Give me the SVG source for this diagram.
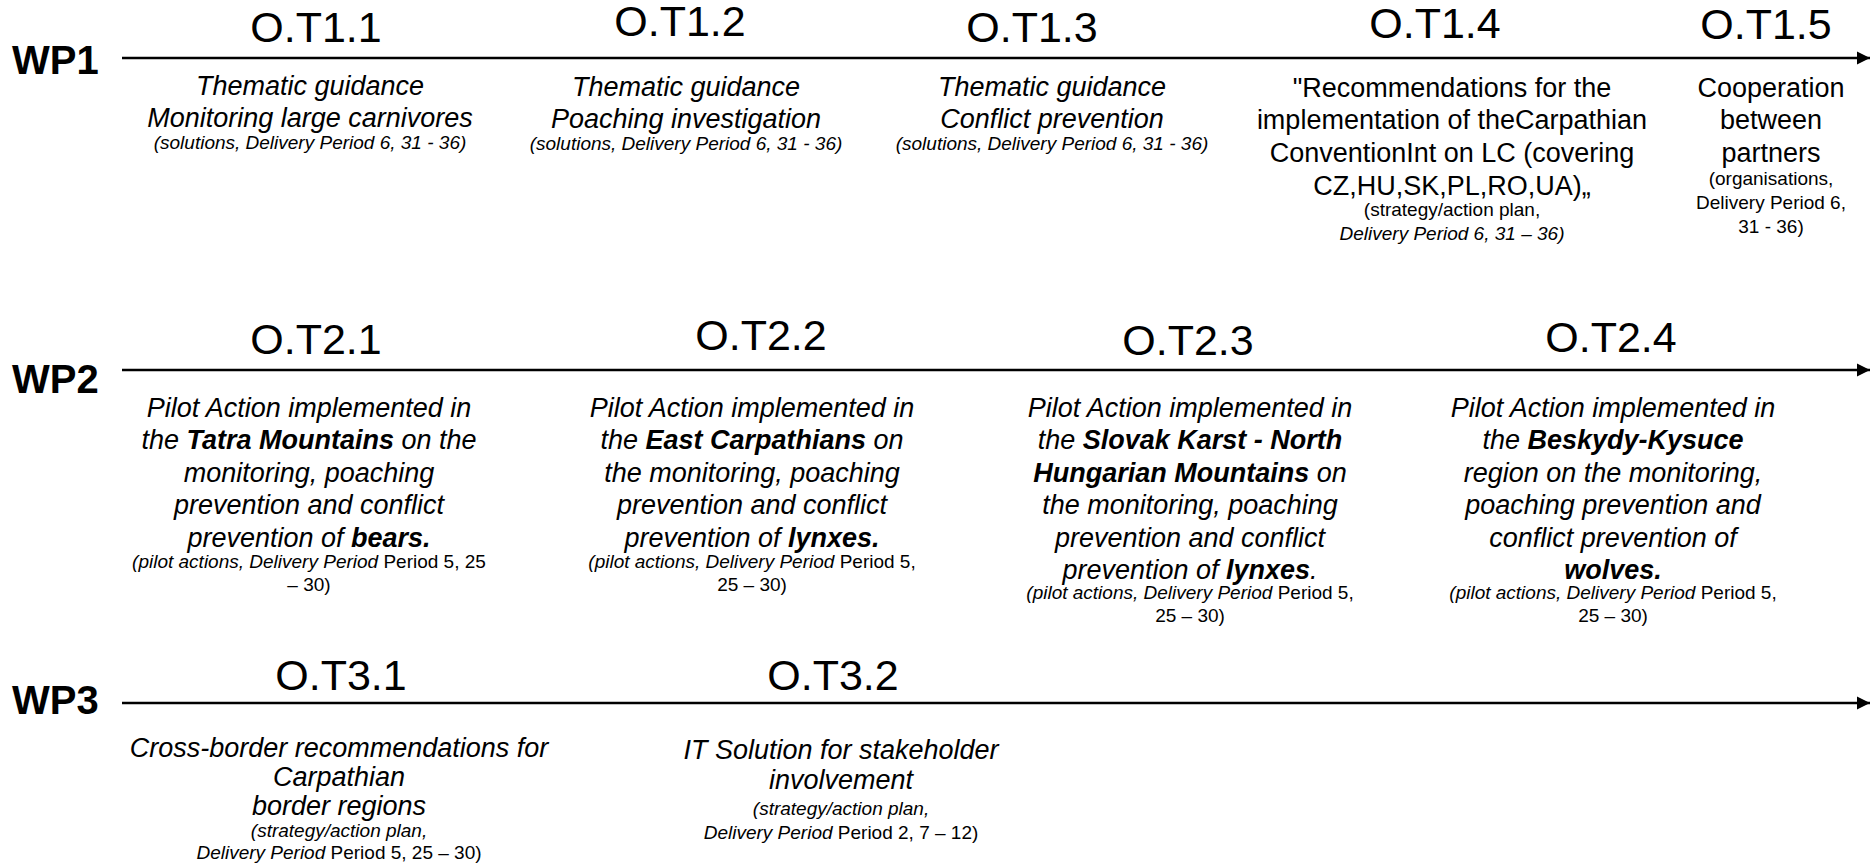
<svg xmlns="http://www.w3.org/2000/svg" width="1871" height="867" viewBox="0 0 1871 867">
<defs>
<style>
text{font-family:"Liberation Sans",Arial,sans-serif;fill:#000;text-anchor:middle}
.wp{font-size:40px;font-weight:bold;text-anchor:start}
.ot{font-size:43px}
.b{font-size:27px}
.i{font-style:italic}
.s{font-size:19px}
.bb{font-weight:bold}
.ax{stroke:#000;stroke-width:2.4;fill:none}
</style>
<marker id="ah" viewBox="0 0 10 10" refX="10" refY="5" markerWidth="5.5" markerHeight="6" markerUnits="strokeWidth" orient="auto"><path d="M0,0L10,5L0,10Z" fill="#000"/></marker>
</defs>
<rect width="1871" height="867" fill="#fff"/>
<g id="connectors">
<line class="ax" x1="122" y1="58" x2="1870" y2="58" marker-end="url(#ah)"/>
<line class="ax" x1="122" y1="370" x2="1870" y2="370" marker-end="url(#ah)"/>
<line class="ax" x1="122" y1="703" x2="1870" y2="703" marker-end="url(#ah)"/>
</g>
<g id="wp-labels">
<text class="wp" x="12" y="74">WP1</text>
<text class="wp" x="12" y="393">WP2</text>
<text class="wp" x="12" y="714">WP3</text>
</g>
<g id="OT1-1">
<text class="ot" x="316" y="42">O.T1.1</text>
<text class="b i" x="310" y="95">Thematic guidance</text>
<text class="b i" x="310" y="127">Monitoring large carnivores</text>
<text class="s i" x="310" y="149">(solutions, Delivery Period 6, 31 - 36)</text>
</g>
<g id="OT1-2">
<text class="ot" x="680" y="36">O.T1.2</text>
<text class="b i" x="686" y="96">Thematic guidance</text>
<text class="b i" x="686" y="128">Poaching investigation</text>
<text class="s i" x="686" y="150">(solutions, Delivery Period 6, 31 - 36)</text>
</g>
<g id="OT1-3">
<text class="ot" x="1032" y="42">O.T1.3</text>
<text class="b i" x="1052" y="96">Thematic guidance</text>
<text class="b i" x="1052" y="128">Conflict prevention</text>
<text class="s i" x="1052" y="150">(solutions, Delivery Period 6, 31 - 36)</text>
</g>
<g id="OT1-4">
<text class="ot" x="1435" y="38">O.T1.4</text>
<text class="b" x="1452" y="97">"Recommendations for the</text>
<text class="b" x="1452" y="129">implementation of theCarpathian</text>
<text class="b" x="1452" y="162">ConventionInt on LC (covering</text>
<text class="b" x="1452" y="195">CZ,HU,SK,PL,RO,UA)„</text>
<text class="s" x="1452" y="216">(strategy/action plan,</text>
<text class="s i" x="1452" y="240">Delivery Period 6, 31 – 36)</text>
</g>
<g id="OT1-5">
<text class="ot" x="1766" y="39">O.T1.5</text>
<text class="b" x="1771" y="97">Cooperation</text>
<text class="b" x="1771" y="129">between</text>
<text class="b" x="1771" y="162">partners</text>
<text class="s" x="1771" y="185">(organisations,</text>
<text class="s" x="1771" y="209">Delivery Period 6,</text>
<text class="s" x="1771" y="233">31 - 36)</text>
</g>
<g id="OT2-1">
<text class="ot" x="316" y="354">O.T2.1</text>
<text class="b i" x="309" y="417">Pilot Action implemented in</text>
<text class="b i" x="309" y="449">the <tspan class="bb">Tatra Mountains</tspan> on the</text>
<text class="b i" x="309" y="482">monitoring, poaching</text>
<text class="b i" x="309" y="514">prevention and conflict</text>
<text class="b i" x="309" y="547">prevention of <tspan class="bb">bears.</tspan></text>
<text class="s" x="309" y="568"><tspan class="i">(pilot actions, Delivery Period</tspan> Period 5, 25</text>
<text class="s" x="309" y="591">– 30)</text>
</g>
<g id="OT2-2">
<text class="ot" x="761" y="350">O.T2.2</text>
<text class="b i" x="752" y="417">Pilot Action implemented in</text>
<text class="b i" x="752" y="449">the <tspan class="bb">East Carpathians</tspan> on</text>
<text class="b i" x="752" y="482">the monitoring, poaching</text>
<text class="b i" x="752" y="514">prevention and conflict</text>
<text class="b i" x="752" y="547">prevention of <tspan class="bb">lynxes.</tspan></text>
<text class="s" x="752" y="568"><tspan class="i">(pilot actions, Delivery Period</tspan> Period 5,</text>
<text class="s" x="752" y="591">25 – 30)</text>
</g>
<g id="OT2-3">
<text class="ot" x="1188" y="355">O.T2.3</text>
<text class="b i" x="1190" y="417">Pilot Action implemented in</text>
<text class="b i" x="1190" y="449">the <tspan class="bb">Slovak Karst - North</tspan></text>
<text class="b i" x="1190" y="482"><tspan class="bb">Hungarian Mountains</tspan> on</text>
<text class="b i" x="1190" y="514">the monitoring, poaching</text>
<text class="b i" x="1190" y="547">prevention and conflict</text>
<text class="b i" x="1190" y="579">prevention of <tspan class="bb">lynxes</tspan>.</text>
<text class="s" x="1190" y="599"><tspan class="i">(pilot actions, Delivery Period</tspan> Period 5,</text>
<text class="s" x="1190" y="622">25 – 30)</text>
</g>
<g id="OT2-4">
<text class="ot" x="1611" y="352">O.T2.4</text>
<text class="b i" x="1613" y="417">Pilot Action implemented in</text>
<text class="b i" x="1613" y="449">the <tspan class="bb">Beskydy-Kysuce</tspan></text>
<text class="b i" x="1613" y="482">region on the monitoring,</text>
<text class="b i" x="1613" y="514">poaching prevention and</text>
<text class="b i" x="1613" y="547">conflict prevention of</text>
<text class="b i bb" x="1613" y="579">wolves.</text>
<text class="s" x="1613" y="599"><tspan class="i">(pilot actions, Delivery Period</tspan> Period 5,</text>
<text class="s" x="1613" y="622">25 – 30)</text>
</g>
<g id="OT3-1">
<text class="ot" x="341" y="690">O.T3.1</text>
<text class="b i" x="339" y="757">Cross-border recommendations for</text>
<text class="b i" x="339" y="786">Carpathian</text>
<text class="b i" x="339" y="815">border regions</text>
<text class="s i" x="339" y="837">(strategy/action plan,</text>
<text class="s" x="339" y="859"><tspan class="i">Delivery Period</tspan> Period 5, 25 – 30)</text>
</g>
<g id="OT3-2">
<text class="ot" x="833" y="690">O.T3.2</text>
<text class="b i" x="841" y="759">IT Solution for stakeholder</text>
<text class="b i" x="841" y="789">involvement</text>
<text class="s i" x="841" y="815">(strategy/action plan,</text>
<text class="s" x="841" y="839"><tspan class="i">Delivery Period</tspan> Period 2, 7 – 12)</text>
</g>
</svg>
